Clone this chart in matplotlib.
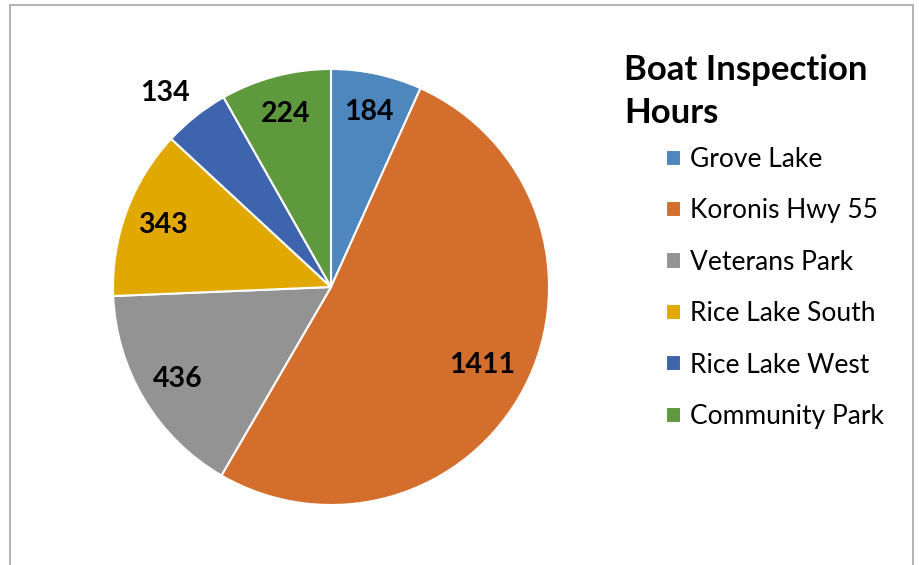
import numpy as np
import matplotlib.pyplot as plt
from matplotlib.patches import Rectangle

# Данные
sites = ['Grove Lake', 'Koronis Hwy 55', 'Veterans Park',
         'Rice Lake South', 'Rice Lake West', 'Community Park']
hours = [184, 1411, 436, 343, 134, 224]
colors = ['#4E86BE', '#D36E2C', '#939393', '#E0A800', '#3F64AE', '#5F993D']
title = 'Boat Inspection\nHours'


def main():
    plt.rcParams['font.family'] = ['Lato', 'DejaVu Sans']
    W, H = 920, 565
    fig = plt.figure(figsize=(W / 100, H / 100), dpi=100)

    # рамка
    fig.add_artist(Rectangle((10 / W, -0.05), 903 / W, 1.05 - 5 / H,
                             transform=fig.transFigure, fill=False,
                             edgecolor='#a6a6a6', linewidth=1.2))

    cx, cy, r = 331, 287, 218
    ax = fig.add_axes([(cx - r) / W, (H - cy - r) / H, 2 * r / W, 2 * r / H])
    wedges, _ = ax.pie(hours, colors=colors, startangle=90, counterclock=False,
                       radius=1, wedgeprops=dict(edgecolor='white', linewidth=1.5))
    ax.set_xlim(-1, 1)
    ax.set_ylim(-1, 1)
    ax.set_aspect('equal')
    ax.axis('off')

    # подписи значений
    for w, v in zip(wedges, hours):
        mid = (w.theta1 + w.theta2) / 2
        frac = v / sum(hours)
        if frac < 0.06:
            d, mid = 1.17, mid + 2.2   # маленький сектор - подпись снаружи
        elif frac > 0.4:
            d = 0.78
        else:
            d = 0.82
        ang = np.deg2rad(mid)
        ax.text(d * np.cos(ang), d * np.sin(ang), str(v), ha='center', va='center',
                fontsize=20.5, fontweight='bold', color='black')

    fig.text(624 / W, 1 - 54 / H, title, ha='left', va='top', fontsize=25,
             fontweight='bold', linespacing=1.42)

    fig.legend(wedges, sites, loc='upper left', bbox_to_anchor=(666 / W, 1 - 147 / H),
               frameon=False, fontsize=19, handlelength=0.57, handleheight=0.57,
               handletextpad=0.34, labelspacing=1.0, borderpad=0, borderaxespad=0)

    fig.savefig('out.png', dpi=100)


if __name__ == "__main__":
    main()
